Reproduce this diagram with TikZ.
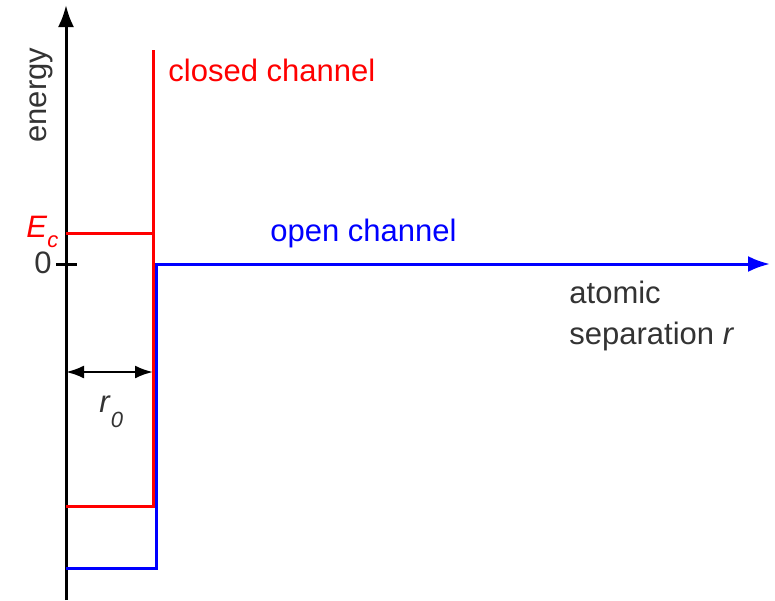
\documentclass[tikz,border=0pt]{standalone}
\usepackage{fontspec}
\setmainfont{Liberation Sans}
\usetikzlibrary{arrows.meta}
\newcommand{\lowsub}[2]{\raisebox{-#1}{\fontsize{11pt}{12pt}\selectfont #2}}
\begin{document}
\begin{tikzpicture}[x=0.5pt,y=-0.5pt,
  lbl/.style={inner sep=0pt,font=\fontsize{15.5pt}{18pt}\selectfont},
  axisline/.style={line width=1.5pt,black},
  closedline/.style={line width=1.5pt,red},
  openline/.style={line width=1.5pt,blue},
  bigtip/.style={-{Latex[length=11pt,width=8pt]}},
  dimline/.style={line width=1.2pt,black,{Latex[length=9pt,width=6.5pt]}-{Latex[length=9pt,width=6.5pt]}}]
\useasboundingbox (0,0) rectangle (775,600);
% coordinates
\coordinate (axbot) at (66,600);
\coordinate (axtop) at (66,5);
\coordinate (tickL) at (56,264);
\coordinate (tickR) at (77,264);
\coordinate (ecL) at (66,233);
\coordinate (ecR) at (153,233);
\coordinate (redtop) at (153,50);
\coordinate (redbot) at (153,506);
\coordinate (redbotL) at (66,506);
\coordinate (bluebotL) at (66,568);
\coordinate (bluebot) at (156,568);
\coordinate (bluecorner) at (156,264);
\coordinate (blueend) at (770,264);
\coordinate (dimL) at (66,372);
\coordinate (dimR) at (153,372);
% axis
\draw[axisline,bigtip] (axbot) -- (axtop);
\draw[axisline] (tickL) -- (tickR);
% closed channel
\draw[closedline] (ecL) -- (ecR);
\draw[closedline] (redbotL) -- (redbot) -- (redtop);
% open channel
\draw[openline,bigtip] (bluebotL) -- (bluebot) -- (bluecorner) -- (blueend);
% r0 dimension
\draw[dimline] (dimL) -- (dimR);
% labels
\node[lbl,rotate=90,anchor=base west,text=black!80] (energy) at (46,143) {energy};
\node[lbl,anchor=base west,text=red] (closed) at (168,81) {closed channel};
\node[lbl,anchor=base west,text=blue] (open) at (270,241) {open channel};
\node[lbl,anchor=base west,text=black!80] (atomic) at (569,303) {atomic};
\node[lbl,anchor=base west,text=black!80] (sep) at (569,344) {separation \textit{r}};
\node[lbl,anchor=base west,text=red] (Ec) at (26,237) {\textit{E}\lowsub{5pt}{\textit{c}}};
\node[lbl,anchor=base west,text=black!80] (zero) at (34,273) {0};
\node[lbl,anchor=base west,text=black!80] (r0) at (99,412) {\textit{r}\lowsub{7.5pt}{\textit{0}}};
\end{tikzpicture}
\end{document}
